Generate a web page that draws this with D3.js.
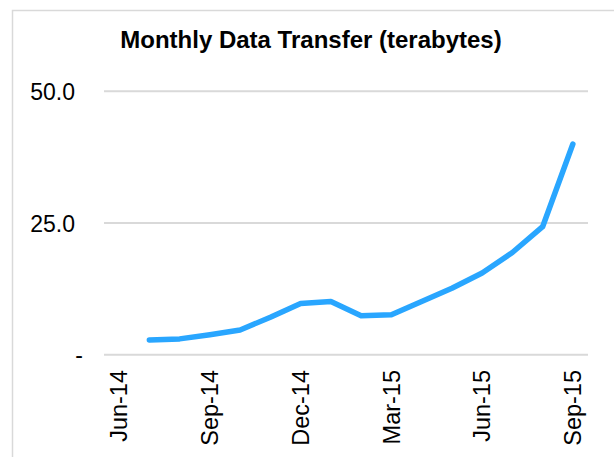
<!DOCTYPE html>
<html>
<head>
<meta charset="utf-8">
<script src="https://cdn.jsdelivr.net/npm/d3@7"></script>
<style>
  body { margin: 0; background: #fff; }
  svg { display: block; font-family: "Liberation Sans", Arial, sans-serif; }
</style>
</head>
<body>
<svg width="614" height="457"></svg>
<script>
// months on the category axis, Jun-14 has no value
const months = ["Jun-14", "Jul-14", "Aug-14", "Sep-14", "Oct-14", "Nov-14", "Dec-14",
    "Jan-15", "Feb-15", "Mar-15", "Apr-15", "May-15", "Jun-15", "Jul-15", "Aug-15", "Sep-15"];
const transfer = [null, 2.8, 3.0, 3.8, 4.7, 7.1, 9.7, 10.1, 7.4, 7.6, 10.1, 12.6, 15.5, 19.4, 24.3, 40.0];
const yTicks = [0, 25, 50];
const monthLabels = ["Jun-14", "Sep-14", "Dec-14", "Mar-15", "Jun-15", "Sep-15"];

var svg = d3.select("svg"),
    width = +svg.attr("width"),
    height = +svg.attr("height");

// chart frame
svg.append("rect")
    .attr("x", 12.5).attr("y", 10.5)
    .attr("width", 640).attr("height", 480)
    .attr("fill", "#fff")
    .attr("stroke", "#d9d9d9")
    .attr("stroke-width", 1.5);

var x = d3.scaleBand().domain(months).range([104, 588]);
var y = d3.scaleLinear().domain([0, 50]).range([354.7, 91.3]);

svg.append("text")
    .attr("x", 311)
    .attr("y", 48)
    .attr("text-anchor", "middle")
    .style("font-weight", "bold")
    .style("font-size", "24px")
    .text("Monthly Data Transfer (terabytes)");

// gridlines
svg.append("g")
    .selectAll("line")
    .data(yTicks)
    .enter().append("line")
    .attr("x1", 104).attr("x2", 588)
    .attr("y1", d => y(d)).attr("y2", d => y(d))
    .attr("stroke", "#d9d9d9")
    .attr("stroke-width", 2);

// y axis labels
var yAxis = svg.append("g")
    .attr("transform", "translate(75,0)")
    .call(d3.axisLeft(y).tickValues(yTicks).tickSize(0).tickPadding(0)
        .tickFormat(d => d === 0 ? "-" : d.toFixed(1)));
yAxis.select(".domain").remove();
yAxis.selectAll("text")
    .attr("fill", "#000")
    .style("font-size", "23px")
    .attr("dy", "0.35em")
    .style("font-family", "Liberation Sans, Arial, sans-serif")
    .filter(d => d === 0)
    .attr("x", 8);

// x axis labels, rotated
var xAxis = svg.append("g")
    .attr("transform", "translate(0,370)")
    .call(d3.axisBottom(x).tickValues(monthLabels).tickSize(0).tickPadding(0));
xAxis.select(".domain").remove();
xAxis.selectAll("text")
    .attr("fill", "#000")
    .style("font-size", "23.5px")
    .style("font-family", "Liberation Sans, Arial, sans-serif")
    .attr("text-anchor", "end")
    .attr("transform", "rotate(-90)")
    .attr("x", 0)
    .attr("y", 0)
    .attr("dy", "0.35em");

// data line
var line = d3.line()
    .defined(d => d.v !== null)
    .x(d => x(d.m) + x.bandwidth() / 2)
    .y(d => y(d.v));

svg.append("path")
    .datum(months.map((m, i) => ({m: m, v: transfer[i]})))
    .attr("d", line)
    .attr("fill", "none")
    .attr("stroke", "#29a6ff")
    .attr("stroke-width", 5.5)
    .attr("stroke-linecap", "round")
    .attr("stroke-linejoin", "round");
</script>
</body>
</html>
